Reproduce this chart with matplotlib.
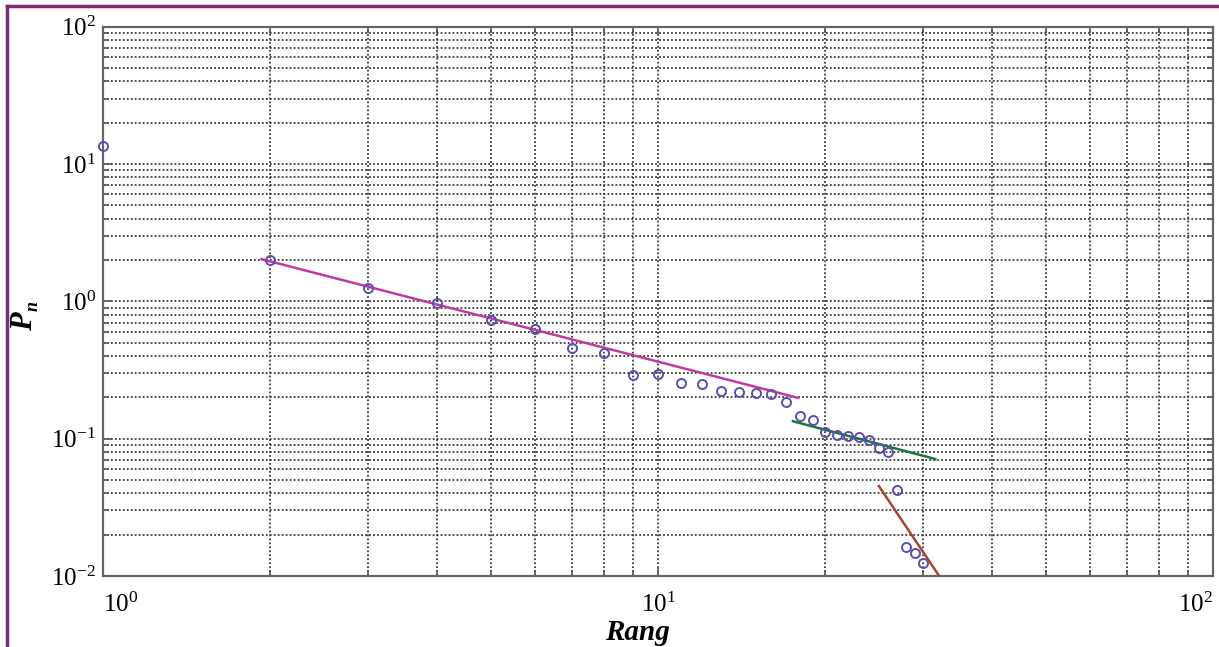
import numpy as np
import matplotlib
matplotlib.use("Agg")
import matplotlib.pyplot as plt
from matplotlib.lines import Line2D

plt.rcParams["font.family"] = ["Liberation Serif", "DejaVu Serif"]
plt.rcParams["mathtext.fontset"] = "custom"
plt.rcParams["mathtext.rm"] = "Liberation Serif"
plt.rcParams["mathtext.it"] = "Liberation Serif:italic"
plt.rcParams["mathtext.bf"] = "Liberation Serif:bold"
plt.rcParams["axes.unicode_minus"] = False

# Rank / frequency data
rank = list(range(1, 31))
pn = [13.5, 2.0, 1.25, 0.97, 0.73, 0.63, 0.457, 0.42, 0.29, 0.296,
      0.254, 0.252, 0.222, 0.218, 0.215, 0.211, 0.185, 0.146, 0.137, 0.112,
      0.106, 0.105, 0.102, 0.098, 0.086, 0.080, 0.042, 0.0162, 0.0147, 0.0124]

# fitted power-law segments (end points)
fit1_x = [1.93, 17.9]
fit1_y = [2.03, 0.198]
fit2_x = [17.5, 31.6]
fit2_y = [0.134, 0.0711]
fit3_x = [25.0, 32.8]
fit3_y = [0.0452, 0.0088]

fig = plt.figure(figsize=(12.19, 6.47), dpi=100)
ax = fig.add_axes([103 / 1219, 1 - 576 / 647, 1110 / 1219, 549.3 / 647])

ax.set_xscale("log")
ax.set_yscale("log")
ax.set_xlim(1, 100)
ax.set_ylim(1e-2, 1e2)

ax.grid(True, which="both", color="#3a3a3a", linestyle=(0, (1.0, 1.2)), linewidth=1.3)
ax.set_axisbelow(True)

ax.plot(fit1_x, fit1_y, color="#c2399f", lw=1.8, zorder=3)
ax.plot(fit2_x, fit2_y, color="#17773a", lw=1.8, zorder=3)
ax.plot(fit3_x, fit3_y, color="#a4472b", lw=1.8, zorder=3)
ax.plot(rank, pn, linestyle="none", marker="o", markersize=6.5,
        markerfacecolor="none", markeredgecolor="#5a4fb0", markeredgewidth=1.4,
        zorder=4, clip_on=False)

for s in ax.spines.values():
    s.set_color("#666666")
    s.set_linewidth(1.6)

ax.tick_params(which="both", direction="in", top=True, right=True, color="#555555")
ax.tick_params(which="major", length=6, width=1.2, labelsize=18)
ax.tick_params(which="minor", length=4, width=1.2)
ax.tick_params(axis="x", pad=12)
ax.tick_params(axis="y", pad=5)

fig.canvas.draw()
for lab in ax.get_xticklabels():
    txt = lab.get_text()
    if "{0}" in txt:
        lab.set_ha("left")
    elif "{2}" in txt:
        lab.set_ha("right")

fig.text(637 / 1219, 1 - 632 / 647, "Rang", fontsize=21, fontweight="bold",
         fontstyle="italic", ha="center", va="center")
fig.text(25 / 1219, 1 - 322 / 647, "P", rotation=90, fontsize=22, fontweight="bold",
         fontstyle="italic", ha="center", va="center")
fig.text(33 / 1219, 1 - 306 / 647, "n", rotation=90, fontsize=13, fontweight="bold",
         fontstyle="italic", ha="center", va="center")

# figure frame (top and left)
fig.add_artist(Line2D([7 / 1219, 7 / 1219], [0, 1 - 6 / 647], transform=fig.transFigure,
                      color="#7d2a6e", lw=2.5))
fig.add_artist(Line2D([7 / 1219, 1], [1 - 6 / 647, 1 - 6 / 647], transform=fig.transFigure,
                      color="#7d2a6e", lw=2.5))

fig.savefig("out.png", dpi=100)
